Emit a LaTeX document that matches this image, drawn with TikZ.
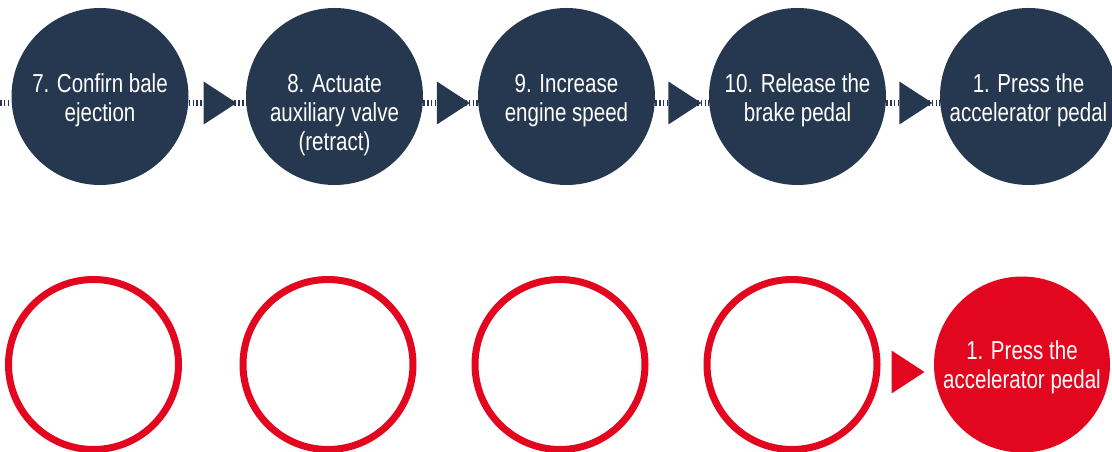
\documentclass[tikz,border=0pt]{standalone}
\usepackage{fontspec}
\setmainfont{Liberation Sans}[FakeStretch=0.79]
\usepackage{tikz}
\usetikzlibrary{calc,positioning,shapes.geometric}
\definecolor{StepNavy}{HTML}{263850}
\definecolor{StepRed}{HTML}{E2061F}

\begin{document}
\begin{tikzpicture}[x=1pt,y=1pt,
  done/.style={circle,fill=StepNavy,minimum size=177pt,inner sep=0pt},
  todo/.style={circle,draw=StepRed,line width=7pt,minimum size=170pt,inner sep=0pt},
  now/.style={circle,fill=StepRed,minimum size=176pt,inner sep=0pt},
  caption/.style={anchor=north,align=center,inner sep=0pt,text=white,font=\fontsize{26}{29}\selectfont},
  tick/.style={draw=StepNavy,line width=6.5pt,dash pattern=on 1.6pt off 2.2pt},
  head/.style={isosceles triangle,isosceles triangle stretches,inner sep=0pt,minimum width=43pt,minimum height=33pt}
]
\useasboundingbox (0,0) rectangle (1112,452);

% upper row
\node[done] (s7) at (100,355.5) {};
\node[done] (s8) at (334.5,355.5) {};
\node[done] (s9) at (566.5,355.5) {};
\node[done] (s10) at (797.5,355.5) {};
\node[done] (s1) at (1028.5,355.5) {};

\coordinate (lead) at (0,349);
\draw[tick] (lead) -- ([yshift=-6.5pt]s7.west);
\draw[tick] ([yshift=-6.5pt]s7.east) -- ([yshift=-6.5pt]s8.west);
\draw[tick] ([yshift=-6.5pt]s8.east) -- ([yshift=-6.5pt]s9.west);
\draw[tick] ([yshift=-6.5pt]s9.east) -- ([yshift=-6.5pt]s10.west);
\draw[tick] ([yshift=-6.5pt]s10.east) -- ([yshift=-6.5pt]s1.west);

\node[head,fill=StepNavy] (h78) at ($(s7.east)!0.5!(s8.west)+(-2,-6.5)$) {};
\node[head,fill=StepNavy] (h89) at ($(s8.east)!0.5!(s9.west)+(-2,-6.5)$) {};
\node[head,fill=StepNavy] (h910) at ($(s9.east)!0.5!(s10.west)+(-2,-6.5)$) {};
\node[head,fill=StepNavy] (h101) at ($(s10.east)!0.5!(s1.west)+(-2,-6.5)$) {};

\node[caption] (t7) at ([yshift=24.8pt]s7.center) {\strut 7. Confirn bale\\ejection};
\node[caption] (t8) at ([yshift=24.8pt]s8.center) {\strut 8. Actuate\\auxiliary valve\\(retract)};
\node[caption] (t9) at ([yshift=24.8pt]s9.center) {\strut 9. Increase\\engine speed};
\node[caption] (t10) at ([yshift=24.8pt]s10.center) {\strut 10. Release the\\brake pedal};
\node[caption] (t1) at ([yshift=24.8pt]s1.center) {\strut 1. Press the\\accelerator pedal};

% lower row
\node[todo] (r7) at (93.5,87.5) {};
\node[todo] (r8) at (328,87.5) {};
\node[todo] (r9) at (560,87.5) {};
\node[todo] (r10) at (792,87.5) {};
\node[now] (r1) at (1022,87.5) {};

\node[head,fill=StepRed] (hr) at ($(r10.east)!0.5!(r1.west)+(-4,-7.5)$) {};
\node[caption] (tr1) at ([yshift=25.8pt]r1.center) {\strut 1. Press the\\accelerator pedal};
\end{tikzpicture}
\end{document}
